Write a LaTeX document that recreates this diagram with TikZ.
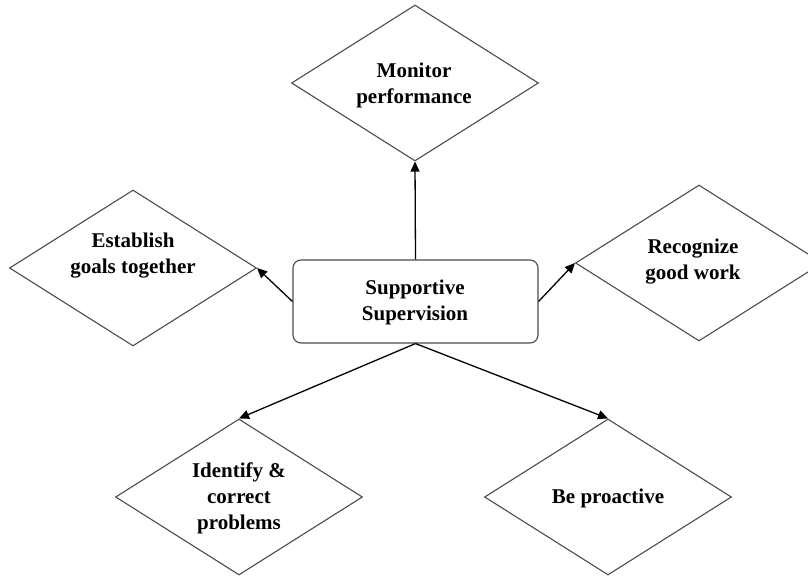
\documentclass[tikz,border=0pt]{standalone}
\usepackage{fontspec}
\setmainfont{Liberation Serif}
\usetikzlibrary{shapes.geometric,arrows.meta}
\tikzset{
  dia/.style={diamond, draw=black!70, line width=1.1pt, minimum width=247pt, minimum height=156pt, inner sep=0pt},
  txt/.style={align=center, font=\fontsize{21}{26}\selectfont\bfseries, text=black},
  hub/.style={draw=black!70, line width=1.1pt, rounded corners=8pt, minimum width=245pt, minimum height=83pt, inner sep=0pt},
  arr/.style={-{Triangle[length=10pt,width=9pt]}, line width=1.3pt, black}
}
\begin{document}
\begin{tikzpicture}[x=1pt,y=-1pt]
\clip (0,0) rectangle (808,577);
\fill[white] (0,0) rectangle (808,577);
\node[hub] (s) at (415.5,301.5) {};
\node[txt] at (415,302) {Supportive\\Supervision};
\node[dia] (m) at (415,83) {};
\node[txt] at (414,85) {Monitor\\performance};
\node[dia] (l) at (133,268) {};
\node[txt] at (133,256) {Establish\\goals together};
\node[dia] (r) at (699,263) {};
\node[txt] at (693,262) {Recognize\\good work};
\node[dia] (bl) at (239,497) {};
\node[txt] at (239,498) {Identify \&\\correct\\problems};
\node[dia] (br) at (608,497) {};
\node[txt] at (608,498) {Be proactive};
\draw[arr] (s.north) -- (m.south);
\draw[arr] (s.west) -- (l.east);
\draw[arr] (s.east) -- (r.west);
\draw[arr] (s.south) -- (bl.north);
\draw[arr] (s.south) -- (br.north);
\end{tikzpicture}
\end{document}
